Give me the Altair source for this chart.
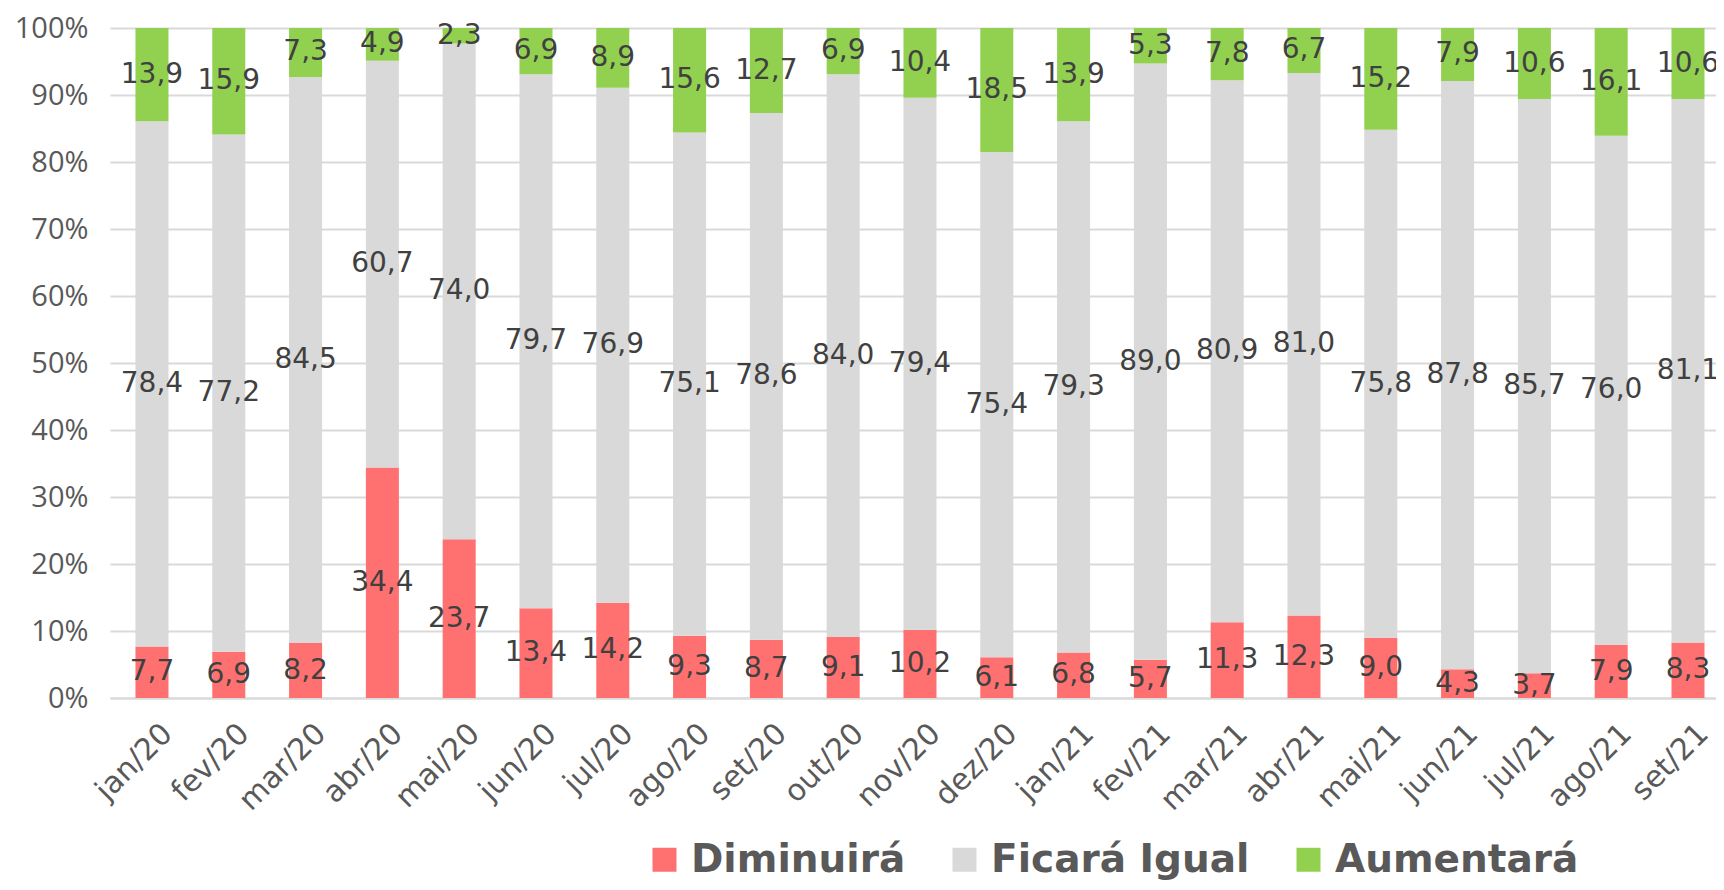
import altair as alt
import pandas as pd

months = ["jan/20", "fev/20", "mar/20", "abr/20", "mai/20", "jun/20", "jul/20",
          "ago/20", "set/20", "out/20", "nov/20", "dez/20", "jan/21", "fev/21",
          "mar/21", "abr/21", "mai/21", "jun/21", "jul/21", "ago/21", "set/21"]
diminuira = [7.7, 6.9, 8.2, 34.4, 23.7, 13.4, 14.2, 9.3, 8.7, 9.1, 10.2, 6.1,
             6.8, 5.7, 11.3, 12.3, 9.0, 4.3, 3.7, 7.9, 8.3]
ficara_igual = [78.4, 77.2, 84.5, 60.7, 74.0, 79.7, 76.9, 75.1, 78.6, 84.0, 79.4, 75.4,
                79.3, 89.0, 80.9, 81.0, 75.8, 87.8, 85.7, 76.0, 81.1]
aumentara = [13.9, 15.9, 7.3, 4.9, 2.3, 6.9, 8.9, 15.6, 12.7, 6.9, 10.4, 18.5,
             13.9, 5.3, 7.8, 6.7, 15.2, 7.9, 10.6, 16.1, 10.6]
series = ["Diminuirá", "Ficará Igual", "Aumentará"]
colors = ["#FF7070", "#D9D9D9", "#92D050"]
y_ticks = [0, 10, 20, 30, 40, 50, 60, 70, 80, 90, 100]

rows = []
for i, m in enumerate(months):
    for k, (name, vals) in enumerate(zip(series, [diminuira, ficara_igual, aumentara])):
        rows.append({"month": m, "serie": name, "ord": k, "v": vals[i]})
df = pd.DataFrame(rows)

base = alt.Chart(df).transform_stack(
    stack="v", groupby=["month"], as_=["y0", "y1"], sort=[alt.SortField("ord")]
).transform_calculate(
    mid="(datum.y0 + datum.y1) / 2",
    label="replace(format(datum.v, '.1f'), '.', ',')",
)

x = alt.X("month:N", sort=months, title=None,
          scale=alt.Scale(paddingInner=0.57, paddingOuter=0.2406, align=0.689),
          axis=alt.Axis(labelAngle=-45, labelFont="DejaVu Sans", labelFontSize=30,
                        labelColor="#595959", ticks=False, domain=True,
                        domainColor="#D9D9D9", domainWidth=2, labelPadding=20,
                        labelOffset=5, grid=False))

bars = base.mark_bar().encode(
    x=x,
    y=alt.Y("y0:Q", title=None,
            scale=alt.Scale(domain=[0, 100], nice=False),
            axis=alt.Axis(values=y_ticks, labelExpr="datum.value + '%'",
                          labelFont="Open Sans", labelFontSize=29,
                          labelColor="#595959", ticks=False, domain=False,
                          grid=True, gridColor="#D9D9D9", gridWidth=1.8,
                          labelPadding=22)),
    y2="y1:Q",
    color=alt.Color("serie:N", sort=series,
                    scale=alt.Scale(domain=series, range=colors),
                    legend=alt.Legend(title=None, orient="none", legendX=535,
                                      legendY=812, direction="horizontal",
                                      symbolType="square", symbolSize=576,
                                      symbolStrokeWidth=0, labelFont="DejaVu Sans",
                                      labelFontWeight="bold", labelFontSize=39,
                                      labelColor="#595959", labelOffset=7,
                                      columnPadding=39, labelLimit=400)),
)

labels = base.mark_text(font="DejaVu Sans", fontSize=28, color="#404040",
                        baseline="middle", align="center").encode(
    x=alt.X("month:N", sort=months),
    y=alt.Y("mid:Q"),
    text="label:N",
)

chart = alt.layer(bars, labels).properties(
    width=1606, height=670,
    autosize=alt.AutoSizeParams(type="none"),
    padding={"left": 102, "top": 20, "right": 0, "bottom": 184},
).configure_view(stroke=None)

chart.save("out.html", embed_options={"renderer": "svg", "actions": False})
